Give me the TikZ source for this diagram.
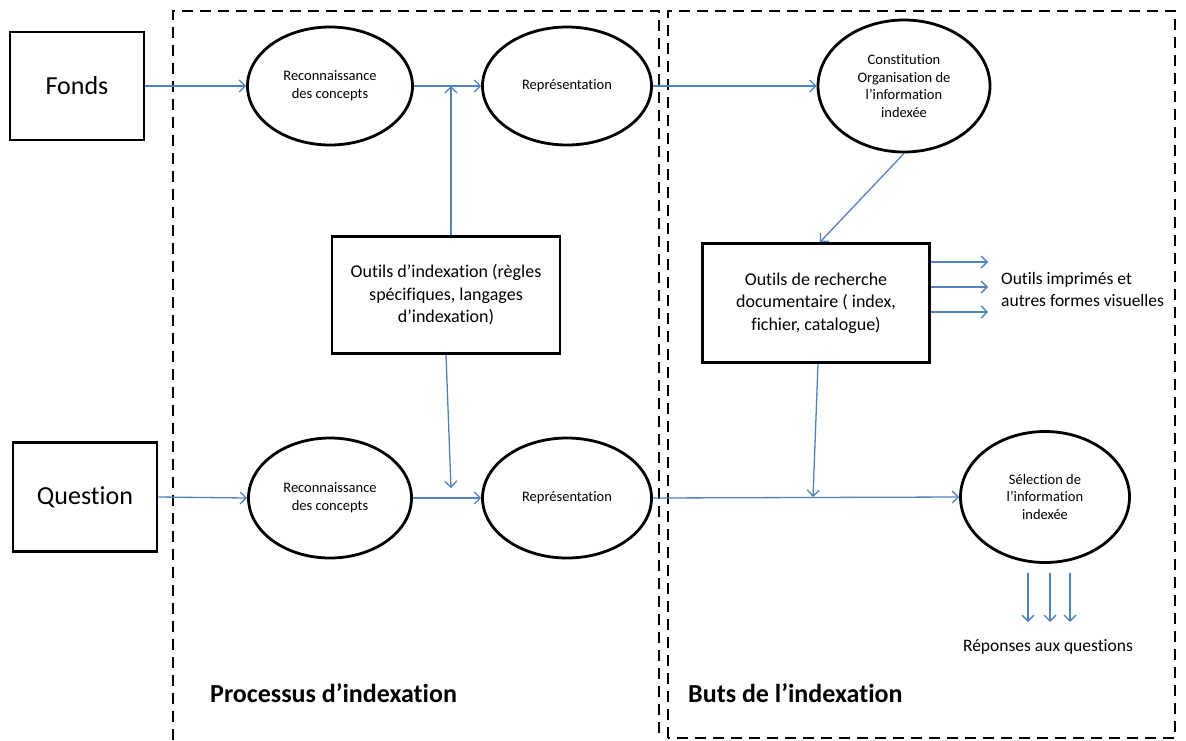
\documentclass[tikz,border=0pt]{standalone}
\usepackage{fontspec}
\setmainfont{Carlito}[Ligatures=NoCommon]
\usetikzlibrary{arrows.meta,shapes.geometric}
\definecolor{flow}{HTML}{4F81BD}
\tikzset{
  inbox/.style={draw=black, line width=2.8pt, inner sep=0pt},
  bubble/.style={draw=black, line width=2.8pt, ellipse, inner sep=0pt, align=center,
    font=\fontsize{14.5}{17.8}\selectfont},
  toolbox/.style={draw=black, line width=2.8pt, inner sep=0pt, align=center,
    font=\fontsize{18}{22.5}\selectfont},
  arr/.style={draw=flow, line width=1.3pt, -{Straight Barb[length=6pt,width=12pt,line width=1.3pt]}},
  zone/.style={draw=black, line width=2.8pt, dash pattern=on 11pt off 7pt},
  note/.style={font=\fontsize{17.5}{22}\selectfont, align=left, inner sep=0pt},
  zonetitle/.style={font=\bfseries\fontsize{26}{30}\selectfont, anchor=west, inner sep=0pt},
}
\begin{document}
\begin{tikzpicture}[x=1pt, y=-1pt]
\useasboundingbox (0,0) rectangle (1186,740);

% the two dashed zones
\draw[zone] (173,740) -- (173,11) -- (659,11) -- (659,740);
\draw[zone] (668,738) rectangle (1175,11);
\node[zonetitle] (t1) at (210,693) {Processus d’indexation};
\node[zonetitle] (t2) at (688,693) {Buts de l’indexation};

% inputs
\node[inbox, minimum width=134pt, minimum height=108pt, font=\fontsize{26}{30}\selectfont] (fonds) at (77,86) {Fonds};
\node[inbox, minimum width=144pt, minimum height=109pt, font=\fontsize{26}{30}\selectfont] (question) at (85,497) {Question};

% upper chain
\node[bubble, minimum width=165pt, minimum height=118pt] (rec1) at (330,86) {Reconnaissance\\des concepts};
\node[bubble, minimum width=169pt, minimum height=118pt] (rep1) at (567,86) {Représentation};
\node[bubble, minimum width=172pt, minimum height=132pt] (const) at (904,86) {Constitution\\Organisation de\\l’information\\indexée};

% lower chain
\node[bubble, minimum width=163pt, minimum height=120pt] (rec2) at (330,498) {Reconnaissance\\des concepts};
\node[bubble, minimum width=169pt, minimum height=120pt] (rep2) at (567,498) {Représentation};
\node[bubble, minimum width=169pt, minimum height=131pt] (sel) at (1045,497) {Sélection de\\l’information\\indexée};

% tool boxes
\node[toolbox, minimum width=228pt, minimum height=117pt] (oi) at (446,295) {Outils d’indexation (règles\\spécifiques, langages\\d’indexation)};
\node[toolbox, minimum width=227pt, minimum height=119pt] (ori) at (816,303) {Outils de recherche\\documentaire ( index,\\fichier, catalogue)};

% outputs
\node[note, anchor=west] (print) at (1001,289) {Outils imprimés et\\autres formes visuelles};
\node[note] (rep) at (1048,647) {Réponses aux questions};

% junction points and free ends
\coordinate (j1) at (451,86);
\coordinate (j2) at (451,488);
\coordinate (j3) at (813,497);
\coordinate (p1) at (988,262);
\coordinate (p2) at (988,287);
\coordinate (p3) at (988,312);
\coordinate (a1s) at (1028,573); \coordinate (a1e) at (1028,622);
\coordinate (a2s) at (1050,573); \coordinate (a2e) at (1050,622);
\coordinate (a3s) at (1070,573); \coordinate (a3e) at (1070,622);

% connectors
\draw[arr] (fonds.east) -- (rec1.west);
\draw[arr] (rec1.east) -- (rep1.west);
\draw[arr] (rep1.east) -- (const.west);
\draw[arr] (oi.north -| j1) -- (j1);
\draw[arr] (oi.south) -- (j2);
\draw[arr] (const.south) -- ([xshift=4pt]ori.north);

\draw[arr] (question.east) -- (rec2.west);
\draw[arr] (rec2.east) -- (rep2.west);
\draw[arr] (rep2.east) -- (sel.west);
\draw[arr] ([xshift=2pt]ori.south) -- (j3);

\draw[arr] (ori.east |- p1) -- (p1);
\draw[arr] (ori.east |- p2) -- (p2);
\draw[arr] (ori.east |- p3) -- (p3);

\draw[arr] (a1s) -- (a1e);
\draw[arr] (a2s) -- (a2e);
\draw[arr] (a3s) -- (a3e);
\end{tikzpicture}
\end{document}
